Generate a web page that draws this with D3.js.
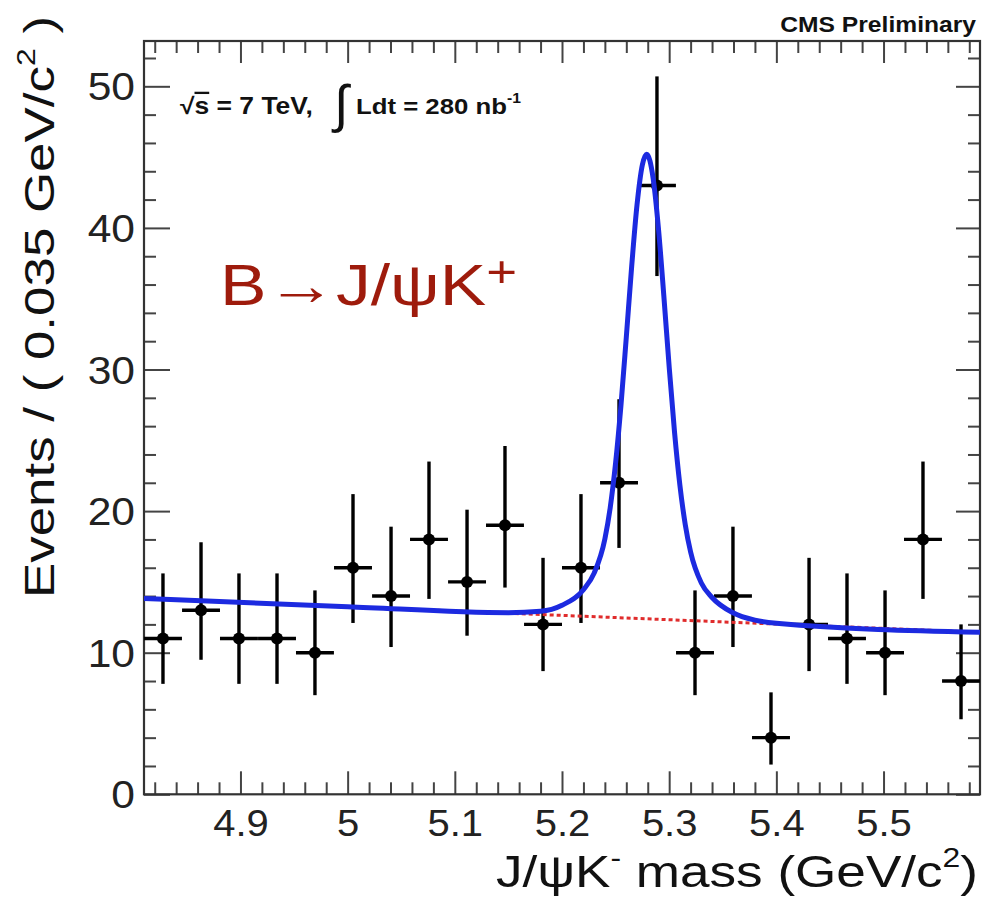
<!DOCTYPE html>
<html><head><meta charset="utf-8">
<script src="https://cdn.jsdelivr.net/npm/d3@7"></script>
<style>
html,body{margin:0;padding:0;background:#fff;}
svg{display:block;background:#fff;}
text{font-family:"Liberation Sans",Arial,Helvetica,sans-serif;}
</style></head><body>
<svg id="chart" width="987" height="904"></svg>
<script>
// ---- data ----
const binCenters = [4.8277, 4.8632, 4.8986, 4.9341, 4.9695, 5.0050, 5.0405, 5.0759, 5.1114, 5.1468, 5.1823,
                    5.2177, 5.2532, 5.2886, 5.3241, 5.3595, 5.3950, 5.4305, 5.4659, 5.5014, 5.5368, 5.5723];
const counts     = [11, 13, 11, 11, 10, 16, 14, 18, 15, 19, 12, 16, 22, 43, 10, 14, 4, 12, 11, 10, 18, 8];
const errLow     = [7.8, 9.5, 7.8, 7.8, 7.0, 12.1, 10.4, 13.8, 11.2, 14.6, 8.7, 12.1, 17.4, 36.6, 7.0, 10.4, 2.1, 8.7, 7.8, 7.0, 13.8, 5.3];
const errHigh    = [15.6, 17.8, 15.6, 15.6, 14.4, 21.2, 18.9, 23.5, 20.1, 24.6, 16.7, 21.2, 27.9, 50.7, 14.4, 18.9, 7.2, 16.7, 15.6, 14.4, 23.5, 12.0];
const binHalfWidth = 0.0177;

// total fit curve (blue)
const fitX = [4.81, 5.00, 5.15, 5.18, 5.20, 5.22, 5.23, 5.24, 5.245, 5.25, 5.255, 5.26, 5.265, 5.27, 5.275, 5.279,
              5.285, 5.29, 5.295, 5.30, 5.305, 5.31, 5.315, 5.32, 5.33, 5.34, 5.36, 5.38, 5.40, 5.59];
const fitY = [13.83, 13.25, 12.82, 12.92, 13.35, 14.45, 15.62, 18.03, 20.25, 23.39, 27.46, 32.29, 37.27, 41.63, 44.46, 45.20,
              43.52, 39.95, 35.21, 30.18, 25.57, 21.83, 19.05, 17.11, 14.92, 13.90, 12.80, 12.30, 12.08, 11.44];
// background component (red dashed)
const bkgX = [4.81, 5.59];
const bkgY = [13.83, 11.44];

// axes
const xDomain = [4.81, 5.59];
const yDomain = [0, 53.2];
const xMajorTicks = [4.9, 5.0, 5.1, 5.2, 5.3, 5.4, 5.5];
const xTickLabels = ["4.9", "5", "5.1", "5.2", "5.3", "5.4", "5.5"];
const yMajorTicks = [0, 10, 20, 30, 40, 50];
const yTickLabels = ["0", "10", "20", "30", "40", "50"];

// ---- drawing ----
const svg = d3.select("#chart");
const L = 144, R = 980, T = 41, B = 794.3;
const x = d3.scaleLinear().domain(xDomain).range([L, R]);
const y = d3.scaleLinear().domain(yDomain).range([B, T]);

const xMinor = d3.range(4.82, 5.5801, 0.02).filter(v => !xMajorTicks.some(m => Math.abs(m - v) < 1e-6));
const yMinor = d3.range(2, 53, 2).filter(v => v % 10 !== 0);

const tickColor = "#444";
function styleAxis(g) {
  g.select(".domain").remove();
  g.selectAll(".tick line").attr("stroke", tickColor).attr("stroke-width", 2);
}

// bottom
svg.append("g").attr("transform", `translate(0,${B})`)
  .call(d3.axisBottom(x).tickValues(xMinor).tickSize(-12).tickFormat(""))
  .call(styleAxis);
const gb = svg.append("g").attr("transform", `translate(0,${B})`)
  .call(d3.axisBottom(x).tickValues(xMajorTicks).tickSize(-23).tickFormat((d, i) => xTickLabels[i]))
  .call(styleAxis);
gb.selectAll(".tick text")
  .attr("y", 42).attr("dy", 0)
  .attr("font-size", 37).attr("fill", "#222")
  .attr("font-family", "'Liberation Sans', Arial, sans-serif")
  .attr("transform", "scale(1.08,1)");

// top
svg.append("g").attr("transform", `translate(0,${T})`)
  .call(d3.axisTop(x).tickValues(xMinor).tickSize(-12).tickFormat(""))
  .call(styleAxis);
svg.append("g").attr("transform", `translate(0,${T})`)
  .call(d3.axisTop(x).tickValues(xMajorTicks).tickSize(-22).tickFormat(""))
  .call(styleAxis);

// left
svg.append("g").attr("transform", `translate(${L},0)`)
  .call(d3.axisLeft(y).tickValues(yMinor).tickSize(-12).tickFormat(""))
  .call(styleAxis);
const gl = svg.append("g").attr("transform", `translate(${L},0)`)
  .call(d3.axisLeft(y).tickValues(yMajorTicks).tickSize(-26).tickFormat((d, i) => yTickLabels[i]))
  .call(styleAxis);
gl.selectAll(".tick text")
  .attr("x", 0).attr("dy", "0.36em")
  .attr("font-size", 38).attr("fill", "#222")
  .attr("font-family", "'Liberation Sans', Arial, sans-serif")
  .attr("transform", "translate(-9,0) scale(1.12,1)");

// right
svg.append("g").attr("transform", `translate(${R},0)`)
  .call(d3.axisRight(y).tickValues(yMinor).tickSize(-12).tickFormat(""))
  .call(styleAxis);
svg.append("g").attr("transform", `translate(${R},0)`)
  .call(d3.axisRight(y).tickValues(yMajorTicks).tickSize(-24).tickFormat(""))
  .call(styleAxis);

// frame
svg.append("rect").attr("x", L).attr("y", T).attr("width", R - L).attr("height", B - T)
  .attr("fill", "none").attr("stroke", "#333").attr("stroke-width", 2.2);

// clip
svg.append("clipPath").attr("id", "plotclip").append("rect")
  .attr("x", L).attr("y", T).attr("width", R - L).attr("height", B - T);

// data points
const pts = svg.append("g");
binCenters.forEach((c, i) => {
  pts.append("line").attr("x1", x(c)).attr("x2", x(c)).attr("y1", y(errLow[i])).attr("y2", y(errHigh[i]))
    .attr("stroke", "#000").attr("stroke-width", 3.4);
  pts.append("line").attr("x1", x(c - binHalfWidth)).attr("x2", x(c + binHalfWidth)).attr("y1", y(counts[i])).attr("y2", y(counts[i]))
    .attr("stroke", "#000").attr("stroke-width", 3.4);
  pts.append("circle").attr("cx", x(c)).attr("cy", y(counts[i])).attr("r", 6).attr("fill", "#000");
});

// curves
const curves = svg.append("g").attr("clip-path", "url(#plotclip)");
const bkgLine = d3.line().x((d, i) => x(bkgX[i])).y((d, i) => y(bkgY[i]));
curves.append("path").attr("d", bkgLine(bkgX)).attr("fill", "none")
  .attr("stroke", "#e02c2c").attr("stroke-width", 3).attr("stroke-dasharray", "4,3");
const fitLine = d3.line().x((d, i) => x(fitX[i])).y((d, i) => y(fitY[i])).curve(d3.curveMonotoneX);
curves.append("path").attr("d", fitLine(fitX)).attr("fill", "none")
  .attr("stroke", "#1c2ae0").attr("stroke-width", 5).attr("stroke-linejoin", "round");

// axis titles
const xt = svg.append("text").attr("transform", "translate(978,887) scale(1.18,1)")
  .attr("text-anchor", "end").attr("font-size", 45).attr("fill", "#111");
xt.append("tspan").text("J/ψK");
xt.append("tspan").attr("font-size", 27).attr("dy", -20).text("-");
xt.append("tspan").attr("dy", 20).text(" mass (GeV/c");
xt.append("tspan").attr("font-size", 27).attr("dy", -20).text("2");
xt.append("tspan").attr("dy", 20).text(")");

const yt = svg.append("text").attr("transform", "translate(54,16) rotate(-90) scale(1.23,1)")
  .attr("text-anchor", "end").attr("font-size", 43).attr("fill", "#111");
yt.append("tspan").text("Events / ( 0.035 GeV/c");
yt.append("tspan").attr("font-size", 26).attr("dy", -19).text("2");
yt.append("tspan").attr("dy", 19).text(" )");

// CMS Preliminary
svg.append("text").attr("transform", "translate(976,32) scale(1.12,1)")
  .attr("text-anchor", "end").attr("font-size", 22).attr("font-weight", "bold").attr("fill", "#111")
  .text("CMS Preliminary");

// energy / lumi label
const a1 = svg.append("text").attr("transform", "translate(180,114) scale(1.15,1)")
  .attr("font-size", 23).attr("font-weight", "bold").attr("fill", "#111");
a1.append("tspan").text("√");
a1.append("tspan").style("text-decoration", "overline").text("s");
a1.append("tspan").text(" = 7 TeV,");
svg.append("text").attr("x", 334).attr("y", 122).attr("font-size", 52)
  .attr("font-family", "'DejaVu Sans', sans-serif").attr("fill", "#111").text("∫");
const a2 = svg.append("text").attr("transform", "translate(356,114) scale(1.12,1)")
  .attr("font-size", 23).attr("font-weight", "bold").attr("fill", "#111");
a2.append("tspan").text("Ldt = 280 nb");
a2.append("tspan").attr("font-size", 14).attr("dy", -11).text("-1");

// decay annotation
const dec = svg.append("text").attr("transform", "translate(220,305) scale(1.2,1)")
  .attr("font-size", 58).attr("font-family", "'DejaVu Sans', sans-serif").attr("fill", "#9e1b0c");
dec.append("tspan").text("B→J/ψK");
dec.append("tspan").attr("font-size", 44).attr("dy", -18).text("+");
</script>
</body></html>
